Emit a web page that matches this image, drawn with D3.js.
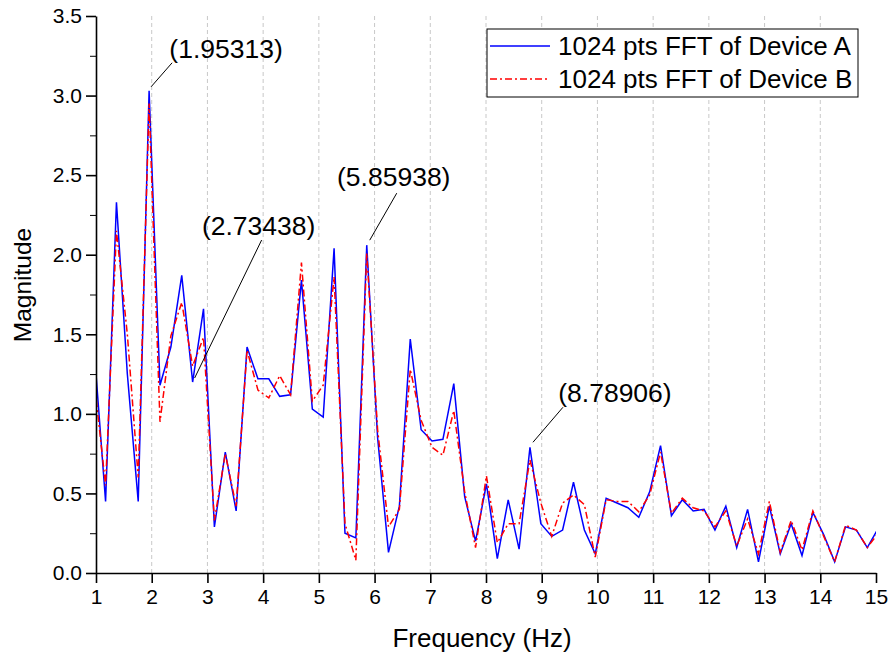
<!DOCTYPE html>
<html>
<head>
<meta charset="utf-8">
<script src="https://cdn.jsdelivr.net/npm/d3@7"></script>
<style>
  body { margin: 0; background: #fff; }
  text { font-family: "Liberation Sans", Arial, sans-serif; fill: #000; }
</style>
</head>
<body>
<div class="chart"></div>
<script>
// FFT bin frequencies (Hz)
var freqs = [0.9766, 1.1719, 1.3672, 1.5625, 1.7578, 1.9531, 2.1484, 2.3438, 2.5391, 2.7344,
  2.9297, 3.1250, 3.3203, 3.5156, 3.7109, 3.9063, 4.1016, 4.2969, 4.4922, 4.6875,
  4.8828, 5.0781, 5.2734, 5.4688, 5.6641, 5.8594, 6.0547, 6.2500, 6.4453, 6.6406,
  6.8359, 7.0313, 7.2266, 7.4219, 7.6172, 7.8125, 8.0078, 8.2031, 8.3984, 8.5938,
  8.7891, 8.9844, 9.1797, 9.3750, 9.5703, 9.7656, 9.9609, 10.1563, 10.3516, 10.5469,
  10.7422, 10.9375, 11.1328, 11.3281, 11.5234, 11.7188, 11.9141, 12.1094, 12.3047, 12.5000,
  12.6953, 12.8906, 13.0859, 13.2813, 13.4766, 13.6719, 13.8672, 14.0625, 14.2578, 14.4531,
  14.6484, 14.8438, 15.0391];

var deviceA = [1.36, 0.45, 2.33, 1.25, 0.45, 3.03, 1.18, 1.42, 1.87, 1.20,
  1.66, 0.29, 0.76, 0.39, 1.42, 1.22, 1.22, 1.11, 1.12, 1.84,
  1.03, 0.98, 2.04, 0.25, 0.22, 2.06, 0.85, 0.13, 0.42, 1.47,
  0.90, 0.83, 0.84, 1.19, 0.48, 0.20, 0.56, 0.09, 0.46, 0.15,
  0.79, 0.31, 0.23, 0.27, 0.57, 0.27, 0.12, 0.47, 0.44, 0.41,
  0.35, 0.51, 0.80, 0.36, 0.46, 0.39, 0.40, 0.27, 0.42, 0.16,
  0.40, 0.07, 0.42, 0.12, 0.31, 0.11, 0.38, 0.24, 0.07, 0.29,
  0.27, 0.16, 0.28];

var deviceB = [1.18, 0.55, 2.15, 1.50, 0.60, 2.95, 0.95, 1.49, 1.70, 1.30,
  1.48, 0.33, 0.75, 0.42, 1.40, 1.15, 1.10, 1.24, 1.12, 1.95,
  1.08, 1.18, 1.86, 0.31, 0.08, 2.01, 0.90, 0.29, 0.40, 1.28,
  0.96, 0.79, 0.74, 1.02, 0.51, 0.16, 0.61, 0.19, 0.31, 0.31,
  0.71, 0.44, 0.23, 0.44, 0.49, 0.43, 0.10, 0.46, 0.45, 0.45,
  0.385, 0.49, 0.76, 0.375, 0.47, 0.41, 0.39, 0.29, 0.39, 0.17,
  0.34, 0.12, 0.45, 0.13, 0.33, 0.145, 0.39, 0.23, 0.07, 0.30,
  0.27, 0.16, 0.25];

var seriesNames = ["1024 pts FFT of Device A", "1024 pts FFT of Device B"];

var xTicks = [1, 2, 3, 4, 5, 6, 7, 8, 9, 10, 11, 12, 13, 14, 15];
var yTicks = [0, 0.5, 1.0, 1.5, 2.0, 2.5, 3.0, 3.5];
var yMinorTicks = [0.25, 0.75, 1.25, 1.75, 2.25, 2.75, 3.25];

// peak labels: frequency bin and label text
var peakFreqs = [1.9531, 2.7344, 5.8594, 8.7891];
var peakLabels = ["(1.95313)", "(2.73438)", "(5.85938)", "(8.78906)"];

var svgWidth = 890;
var svgHeight = 660;

var margin = { top: 16, right: 14, bottom: 87, left: 96 };
var width = svgWidth - margin.left - margin.right;
var height = svgHeight - margin.top - margin.bottom;

var svg = d3.select(".chart")
  .append("svg")
  .attr("width", svgWidth)
  .attr("height", svgHeight);

var chartGroup = svg.append("g")
  .attr("transform", `translate(${margin.left}, ${margin.top})`);

var xScale = d3.scaleLinear().domain([1, 15]).range([0, width]);
var yScale = d3.scaleLinear().domain([0, 3.5]).range([height, 0]);

// dashed vertical grid
chartGroup.append("g")
  .selectAll("line")
  .data(xTicks.filter(d => d > 1 && d < 15))
  .enter()
  .append("line")
  .attr("x1", d => xScale(d))
  .attr("x2", d => xScale(d))
  .attr("y1", 0)
  .attr("y2", height)
  .attr("stroke", "#c8c8c8")
  .attr("stroke-width", 1)
  .attr("stroke-dasharray", "4,3");

// clip lines to the plot area
svg.append("defs").append("clipPath")
  .attr("id", "plotClip")
  .append("rect")
  .attr("x", 0)
  .attr("y", -5)
  .attr("width", width)
  .attr("height", height + 10);

var rowsA = freqs.map((f, i) => ({ f: f, v: deviceA[i] }));
var rowsB = freqs.map((f, i) => ({ f: f, v: deviceB[i] }));

var line = d3.line()
  .x(d => xScale(d.f))
  .y(d => yScale(d.v));

var lines = chartGroup.append("g").attr("clip-path", "url(#plotClip)");

lines.append("path")
  .datum(rowsA)
  .attr("d", line)
  .attr("fill", "none")
  .attr("stroke", "#0000ff")
  .attr("stroke-width", 1.5)
  .attr("stroke-linejoin", "miter");

lines.append("path")
  .datum(rowsB)
  .attr("d", line)
  .attr("fill", "none")
  .attr("stroke", "#ff0000")
  .attr("stroke-width", 1.5)
  .attr("stroke-dasharray", "7,3,2,3");

// axes
var bottomAxis = d3.axisBottom(xScale)
  .tickValues(xTicks)
  .tickFormat(d3.format("d"))
  .tickSize(10)
  .tickSizeOuter(0)
  .tickPadding(6);

var leftAxis = d3.axisLeft(yScale)
  .tickValues(yTicks)
  .tickFormat(d3.format(".1f"))
  .tickSize(10)
  .tickSizeOuter(0)
  .tickPadding(4);

var xAxisG = chartGroup.append("g")
  .attr("transform", `translate(0, ${height})`)
  .call(bottomAxis);

var yAxisG = chartGroup.append("g")
  .call(leftAxis);

chartGroup.append("g")
  .call(d3.axisLeft(yScale).tickValues(yMinorTicks).tickFormat("").tickSize(6).tickSizeOuter(0))
  .select(".domain").remove();

[xAxisG, yAxisG].forEach(function(g) {
  g.selectAll(".domain").attr("stroke-width", 1.6);
  g.selectAll(".tick line").attr("stroke-width", 1.6);
  g.selectAll(".tick text")
    .attr("font-size", "21px")
    .style("font-family", "'Liberation Sans', Arial, sans-serif");
});

// peak annotations
var annoOffsets = [
  { x1: 2, y1: -4, x2: 23, y2: -28, tx: 77, ty: -33 },
  { x1: 2, y1: -4, x2: 69, y2: -142, tx: 66, ty: -147 },
  { x1: 3, y1: -5, x2: 30, y2: -52, tx: 27, ty: -59 },
  { x1: 3, y1: -5, x2: 33, y2: -40, tx: 85, ty: -45 }
];

peakFreqs.forEach(function(pf, i) {
  var idx = freqs.indexOf(pf);
  var px = xScale(pf);
  var py = yScale(deviceA[idx]);
  var o = annoOffsets[i];
  chartGroup.append("line")
    .attr("x1", px + o.x1)
    .attr("y1", py + o.y1)
    .attr("x2", px + o.x2)
    .attr("y2", py + o.y2)
    .attr("stroke", "#000")
    .attr("stroke-width", 1);
  chartGroup.append("text")
    .attr("x", px + o.tx)
    .attr("y", py + o.ty)
    .attr("text-anchor", "middle")
    .attr("font-size", "26.5px")
    .text(peakLabels[i]);
});

// legend
var legend = svg.append("g").attr("transform", "translate(487, 29)");
legend.append("rect")
  .attr("width", 371)
  .attr("height", 68)
  .attr("fill", "#fff")
  .attr("stroke", "#000")
  .attr("stroke-width", 1);

var legendStyles = [
  { color: "#0000ff", dash: null },
  { color: "#ff0000", dash: "7,3,2,3" }
];

seriesNames.forEach(function(name, i) {
  var ly = 17 + i * 33;
  legend.append("line")
    .attr("x1", 3)
    .attr("x2", 63)
    .attr("y1", ly)
    .attr("y2", ly)
    .attr("stroke", legendStyles[i].color)
    .attr("stroke-width", 1.5)
    .attr("stroke-dasharray", legendStyles[i].dash);
  legend.append("text")
    .attr("x", 71)
    .attr("y", ly + 9)
    .attr("font-size", "26px")
    .text(name);
});

// axis labels
svg.append("text")
  .attr("x", margin.left + width / 2 - 4)
  .attr("y", 647)
  .attr("text-anchor", "middle")
  .attr("font-size", "26px")
  .text("Frequency (Hz)");

svg.append("text")
  .attr("transform", "translate(31, 285) rotate(-90)")
  .attr("text-anchor", "middle")
  .attr("font-size", "24.5px")
  .text("Magnitude");
</script>
</body>
</html>
